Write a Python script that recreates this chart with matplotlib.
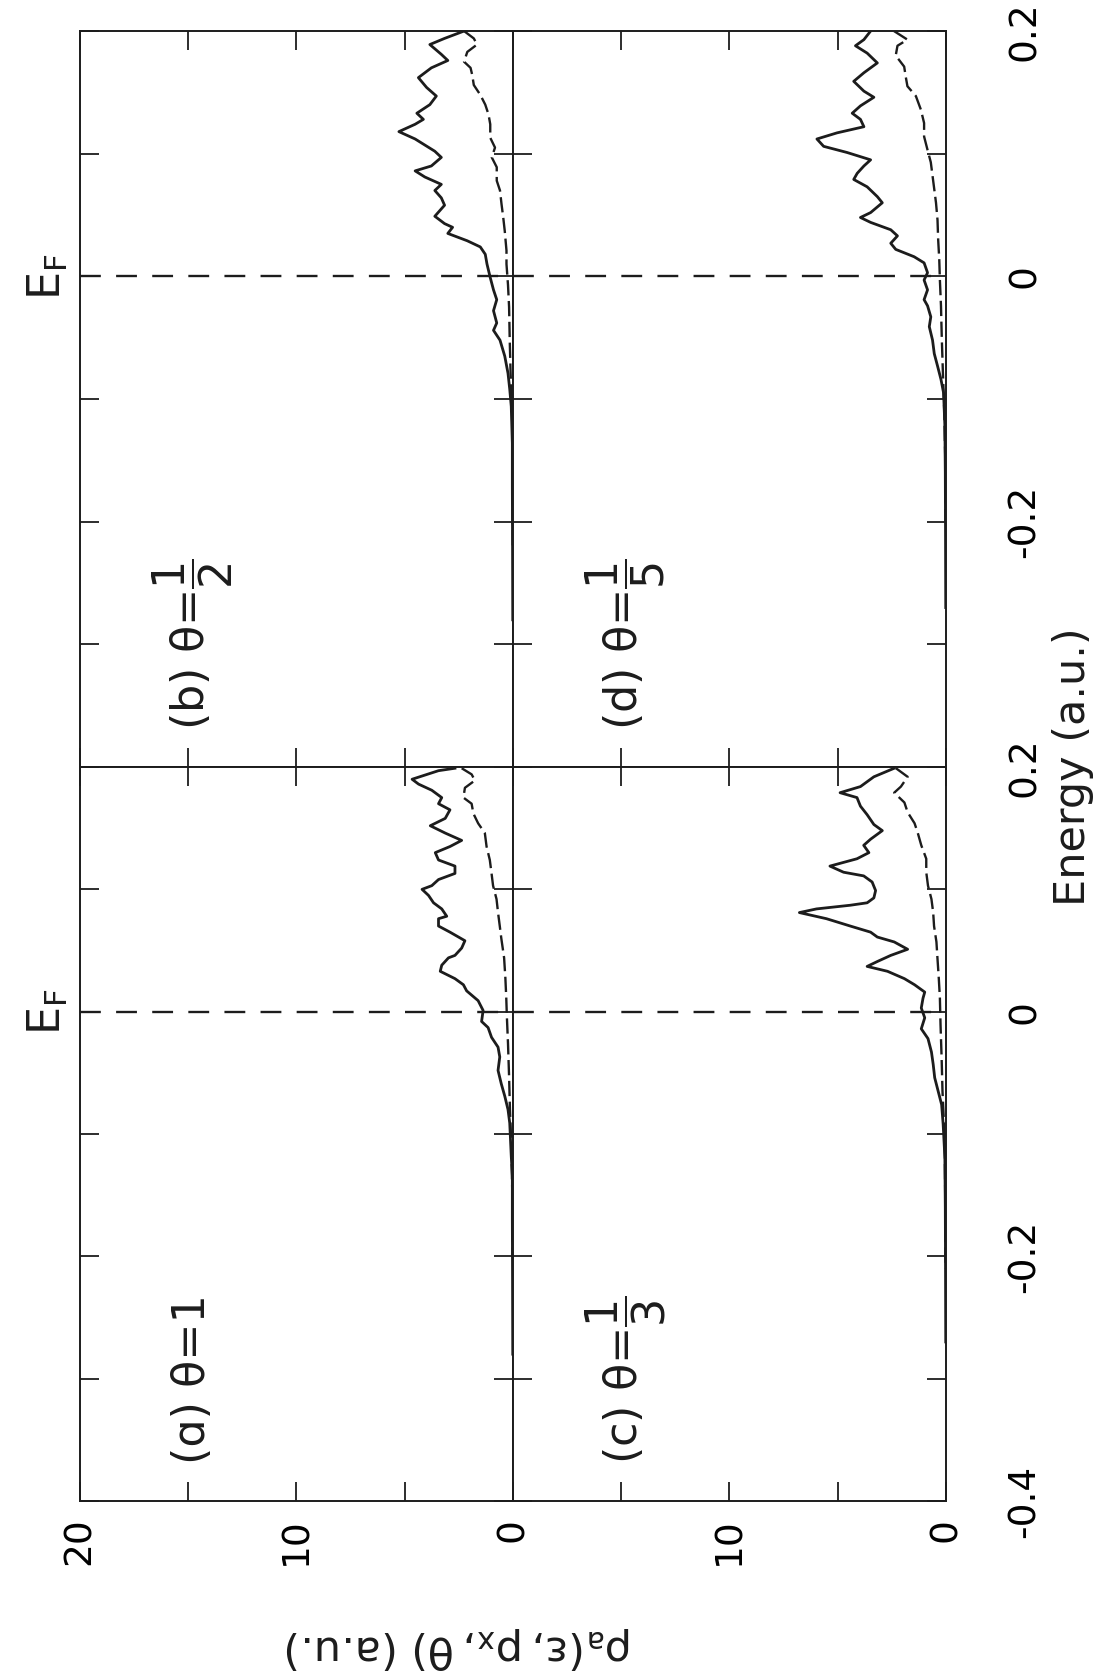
import numpy as np
import matplotlib
matplotlib.use('Agg')
import matplotlib.pyplot as plt

plt.rcParams['font.family'] = 'DejaVu Sans'
plt.rcParams['mathtext.fontset'] = 'dejavusans'
plt.rcParams['lines.scale_dashes'] = False

INK = '#1c1c1c'

# --- panel (a) theta = 1 -----------------------------------------------------
a_solid_E = [0.199, 0.197, 0.190, 0.186, 0.181, 0.175, 0.170, 0.165, 0.158, 0.152,
             0.146, 0.140, 0.135, 0.130, 0.124, 0.119, 0.113, 0.108, 0.103, 0.100,
             0.095, 0.089, 0.084, 0.078, 0.076, 0.070, 0.065, 0.058, 0.052, 0.046,
             0.044, 0.038, 0.033, 0.027, 0.022, 0.017, 0.009, 0.001, -0.008, -0.013,
             -0.021, -0.029, -0.037, -0.048, -0.059, -0.069, -0.080, -0.091, -0.118, -0.134,
             -0.17, -0.22, -0.28]
a_solid_rho = [2.68, 3.44, 4.66, 4.36, 3.75, 3.29, 3.44, 2.91, 3.13, 3.82,
               3.13, 2.37, 2.91, 3.59, 3.44, 2.68, 2.68, 3.44, 3.75, 4.20,
               3.90, 3.67, 3.29, 3.06, 3.44, 3.44, 2.91, 2.22, 2.37, 2.68,
               2.98, 3.29, 3.36, 2.68, 2.29, 2.14, 1.61, 1.38, 1.45, 1.15,
               0.99, 0.69, 0.61, 0.69, 0.54, 0.38, 0.23, 0.15, 0.08, 0.03,
               0.03, 0.02, 0.01]
a_dash_E = [0.199, 0.194, 0.189, 0.183, 0.175, 0.170, 0.162, 0.154, 0.146, 0.135,
            0.124, 0.113, 0.103, 0.092, 0.081, 0.070, 0.060, 0.044, 0.027, 0.011,
            -0.005, -0.026, -0.053, -0.080, -0.107, -0.15, -0.20]
a_dash_rho = [2.37, 1.91, 1.76, 2.22, 2.29, 1.91, 1.83, 1.61, 1.30, 1.22,
              1.07, 0.99, 0.92, 0.76, 0.69, 0.61, 0.54, 0.41, 0.35, 0.31,
              0.28, 0.23, 0.18, 0.14, 0.08, 0.03, 0.02]

# --- panel (b) theta = 1/2 ---------------------------------------------------
b_solid_E = [0.200, 0.194, 0.189, 0.181, 0.176, 0.170, 0.162, 0.154, 0.147, 0.140,
             0.133, 0.128, 0.124, 0.118, 0.112, 0.102, 0.097, 0.090, 0.086, 0.081,
             0.075, 0.070, 0.064, 0.058, 0.049, 0.043, 0.040, 0.035, 0.029, 0.024,
             0.018, 0.010, -0.001, -0.011, -0.019, -0.028, -0.038, -0.044, -0.052, -0.065,
             -0.079, -0.092, -0.106, -0.136, -0.17, -0.22, -0.28]
b_solid_rho = [2.26, 3.16, 3.84, 3.31, 3.01, 3.77, 4.37, 3.99, 3.54, 3.84,
               4.44, 4.14, 4.52, 5.27, 4.52, 3.61, 3.31, 3.77, 4.52, 4.07,
               3.31, 3.61, 3.31, 3.16, 3.61, 3.16, 2.79, 3.01, 2.11, 1.51,
               1.28, 1.20, 1.05, 0.90, 0.75, 0.90, 0.75, 0.90, 0.60, 0.38,
               0.23, 0.15, 0.08, 0.03, 0.03, 0.02, 0.01]
b_dash_E = [0.200, 0.194, 0.189, 0.183, 0.175, 0.170, 0.164, 0.156, 0.148, 0.140,
            0.132, 0.124, 0.113, 0.105, 0.097, 0.089, 0.078, 0.070, 0.059, 0.048,
            0.037, 0.021, 0.010, -0.007, -0.025, -0.052, -0.079, -0.106, -0.136, -0.17,
            -0.22]
b_dash_rho = [2.26, 1.81, 1.66, 2.11, 2.26, 1.96, 1.88, 1.81, 1.51, 1.28,
              1.13, 1.05, 1.05, 0.83, 0.98, 0.75, 0.75, 0.60, 0.53, 0.45,
              0.38, 0.30, 0.30, 0.23, 0.18, 0.15, 0.11, 0.05, 0.02, 0.02,
              0.01]

# --- panel (c) theta = 1/3 ---------------------------------------------------
c_solid_E = [0.199, 0.192, 0.184, 0.179, 0.175, 0.168, 0.161, 0.153, 0.148, 0.141,
             0.136, 0.130, 0.125, 0.119, 0.114, 0.111, 0.106, 0.099, 0.093, 0.089,
             0.087, 0.084, 0.081, 0.076, 0.070, 0.065, 0.061, 0.057, 0.051, 0.046,
             0.041, 0.037, 0.033, 0.027, 0.022, 0.016, 0.011, 0.003, -0.005, -0.014,
             -0.022, -0.033, -0.043, -0.054, -0.065, -0.076, -0.092, -0.119,
             -0.16, -0.21, -0.27]
c_solid_rho = [2.39, 3.33, 3.95, 4.89, 4.11, 3.95, 3.64, 3.33, 2.94, 3.48,
               3.80, 3.56, 4.11, 5.36, 4.73, 3.80, 3.41, 3.25, 3.33, 3.64,
               4.42, 5.98, 6.77, 5.52, 4.42, 3.48, 3.17, 2.39, 1.77, 2.55,
               3.17, 3.64, 2.70, 1.92, 1.45, 0.98, 1.06, 1.14, 0.98, 1.14,
               0.83, 0.67, 0.59, 0.52, 0.36, 0.20, 0.13, 0.05,
               0.03, 0.02, 0.01]
c_dash_E = [0.199, 0.192, 0.184, 0.179, 0.171, 0.163, 0.154, 0.146, 0.136, 0.125,
            0.114, 0.103, 0.092, 0.081, 0.070, 0.057, 0.043, 0.027, 0.011, -0.011,
            -0.038, -0.065, -0.092, -0.119, -0.16, -0.21]
c_dash_rho = [2.31, 1.77, 2.08, 2.39, 1.92, 1.77, 1.45, 1.30, 1.14, 0.91,
              0.91, 0.83, 0.67, 0.59, 0.55, 0.44, 0.39, 0.33, 0.28, 0.25,
              0.20, 0.16, 0.09, 0.05, 0.03, 0.02]

# --- panel (d) theta = 1/5 ---------------------------------------------------
d_solid_E = [0.200, 0.193, 0.188, 0.182, 0.174, 0.166, 0.159, 0.151, 0.146, 0.139,
             0.133, 0.128, 0.122, 0.117, 0.112, 0.106, 0.101, 0.095, 0.090, 0.084,
             0.079, 0.073, 0.065, 0.060, 0.052, 0.048, 0.044, 0.038, 0.033, 0.027,
             0.022, 0.016, 0.011, 0.003, -0.003, -0.011, -0.019, -0.024, -0.033, -0.041,
             -0.052, -0.063, -0.073, -0.084, -0.095, -0.122, -0.16, -0.21, -0.27]
d_solid_rho = [3.48, 3.79, 4.18, 3.64, 3.17, 3.79, 4.26, 3.79, 3.33, 3.95,
               4.33, 3.95, 3.79, 5.03, 5.96, 5.65, 4.57, 3.48, 3.79, 4.10,
               4.26, 3.64, 3.17, 2.94, 3.48, 3.95, 3.48, 2.55, 2.24, 2.55,
               2.32, 1.47, 1.01, 0.85, 1.01, 0.85, 1.01, 0.85, 0.70, 0.77,
               0.62, 0.54, 0.39, 0.23, 0.11, 0.05, 0.03, 0.02, 0.01]
d_dash_E = [0.200, 0.193, 0.188, 0.180, 0.171, 0.163, 0.155, 0.147, 0.136, 0.125,
            0.114, 0.103, 0.093, 0.082, 0.071, 0.060, 0.046, 0.030, 0.014, -0.003,
            -0.024, -0.052, -0.079, -0.109, -0.15, -0.20]
d_dash_rho = [2.40, 1.78, 2.24, 2.32, 1.93, 1.86, 1.78, 1.39, 1.16, 1.01,
              1.01, 0.85, 0.70, 0.62, 0.54, 0.46, 0.39, 0.36, 0.31, 0.28,
              0.23, 0.19, 0.14, 0.08, 0.03, 0.02]

rho_ticks = [0, 5, 10, 15, 20]
energy_ticks = [-0.4, -0.3, -0.2, -0.1, 0.0, 0.1, 0.2]

# the page is turned a quarter turn: energy runs upward, rho grows to the left
panels = [
    # key, [left, bottom, width, height], label, solid, dashed, column, row
    ('b', [0.0726, 0.5429, 0.3929, 0.4386], '(b) θ=$\\dfrac{1}{2}$',
     (b_solid_rho, b_solid_E), (b_dash_rho, b_dash_E), 0, 0),
    ('d', [0.4655, 0.5429, 0.3929, 0.4386], '(d) θ=$\\dfrac{1}{5}$',
     (d_solid_rho, d_solid_E), (d_dash_rho, d_dash_E), 1, 0),
    ('a', [0.0726, 0.1055, 0.3929, 0.4374], '(ɑ) θ=1',
     (a_solid_rho, a_solid_E), (a_dash_rho, a_dash_E), 0, 1),
    ('c', [0.4655, 0.1055, 0.3929, 0.4374], '(c) θ=$\\dfrac{1}{3}$',
     (c_solid_rho, c_solid_E), (c_dash_rho, c_dash_E), 1, 1),
]

fig = plt.figure(figsize=(11.02, 16.78), dpi=100)

for key, pos, label, solid, dashed, col, row in panels:
    ax = fig.add_axes(pos)
    ax.plot(solid[0], solid[1], color=INK, lw=2.0, solid_joinstyle='round')
    ax.plot(dashed[0], dashed[1], color=INK, lw=1.7, dashes=(11, 4))
    ax.axhline(0.0, color=INK, lw=1.7, dashes=(15, 11))

    ax.set_xlim(20, 0)
    ax.set_ylim(-0.4, 0.2)
    for s in ax.spines.values():
        s.set_linewidth(1.4)
        s.set_color(INK)

    ax.set_xticks(rho_ticks)
    ax.set_yticks(energy_ticks)
    ax.tick_params(direction='in', length=14, width=1.3, color=INK,
                   top=True, bottom=True, left=True, right=True,
                   labelleft=False, labelbottom=False, labelsize=27)

    if row == 1:
        xl = ['0', '', '10', '', '20'] if col == 0 else ['0', '', '10', '', '']
        ax.set_xticklabels(xl, rotation=90, va='top', ha='center')
        ax.tick_params(axis='x', labelbottom=True, pad=12)
    if col == 1:
        if row == 1:
            yl = ['-0.4', '', '-0.2', '', '0', '', '0.2']
        else:
            yl = ['', '', '-0.2', '', '0', '', '0.2']
        ax.set_yticklabels(yl, rotation=90, va='center')
        ax.tick_params(axis='y', labelright=True, pad=44)

    ax.text(14.8, -0.37, label, rotation=90, ha='center', va='bottom',
            fontsize=32, color=INK)

    if col == 0:
        ax.text(-0.074, 0.0, 'E$_\\mathregular{F}$', transform=ax.get_yaxis_transform(),
                rotation=90, ha='center', va='center', fontsize=32, color=INK)

fig.text(0.974, 0.5429, 'Energy (a.u.)', rotation=90, ha='center', va='center',
         fontsize=31, color=INK)
fig.text(0.4165, 0.0179, '$\\mathregular{\\rho_a(\\varepsilon,p_x,\\theta)}$ (a.u.)',
         rotation=180, ha='center', va='center', fontsize=31, color=INK)

fig.savefig('out.png', dpi=100, facecolor='white')
